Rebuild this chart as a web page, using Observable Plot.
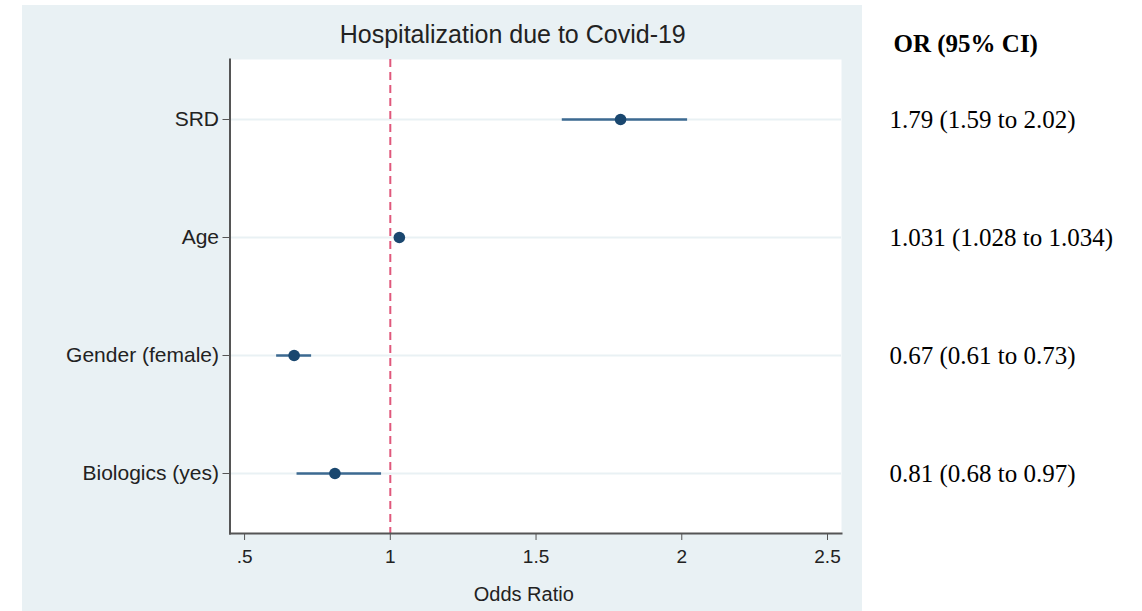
<!DOCTYPE html>
<html>
<head>
<meta charset="utf-8">
<script src="https://cdn.jsdelivr.net/npm/d3@7"></script>
<script src="https://cdn.jsdelivr.net/npm/@observablehq/plot@0.6"></script>
<style>
  html, body { margin: 0; padding: 0; background: #ffffff; }
  #wrap { position: relative; width: 1142px; height: 611px; overflow: hidden; }
  #panel { position: absolute; left: 22px; top: 5px; width: 840px; height: 606px; background: #e9f1f4; }
  #chart { position: absolute; left: 0; top: 0; }
</style>
</head>
<body>
<div id="wrap">
  <div id="panel"></div>
  <div id="chart"></div>
</div>
<script>
// Predictors, odds ratios and 95% confidence bounds
const predictors = ["SRD", "Age", "Gender (female)", "Biologics (yes)"];
const oddsRatio  = [1.79, 1.031, 0.67, 0.81];
const ciLower    = [1.59, 1.028, 0.61, 0.68];
const ciUpper    = [2.02, 1.034, 0.73, 0.97];
const xTicks     = [0.5, 1, 1.5, 2, 2.5];

const rows = predictors.map((name, i) => ({
  name, or: oddsRatio[i], lo: ciLower[i], hi: ciUpper[i]
}));

const sans = "'Liberation Sans', Arial, sans-serif";
const serif = "'Liberation Serif', 'Times New Roman', serif";

const chart = Plot.plot({
  width: 1142,
  height: 611,
  marginLeft: 229.5,
  marginRight: 301,
  marginTop: 59,
  marginBottom: 78,
  style: { background: "transparent", fontFamily: sans, color: "#222" },
  x: { domain: [0.45, 2.548], ticks: xTicks, tickFormat: d => String(d).replace(/^0\./, "."), label: null },
  y: { type: "point", domain: predictors, padding: 0.5, label: null },
  marks: [
    Plot.frame({ fill: "white", stroke: null }),
    // light row guides
    Plot.ruleY(predictors, { stroke: "#e9f1f4", strokeWidth: 2 }),
    // reference line of no effect
    Plot.ruleX([1], { stroke: "#e0587c", strokeWidth: 2, strokeDasharray: "8,5" }),
    // confidence intervals
    Plot.ruleY(rows, { y: "name", x1: "lo", x2: "hi", stroke: "#3d6a91", strokeWidth: 2.5 }),
    // point estimates
    Plot.dot(rows, { x: "or", y: "name", r: 5.8, fill: "#1a476f", stroke: null }),
    // axes
    Plot.axisY({ tickSize: 7, tickPadding: 4, fontSize: 21, stroke: "#555", label: null }),
    Plot.axisX({ ticks: xTicks, tickSize: 7, tickPadding: 9, fontSize: 19, stroke: "#555", label: null,
                 tickFormat: d => String(d).replace(/^0\./, ".") }),
    Plot.frame({ anchor: "left", stroke: "#555", strokeWidth: 2 }),
    Plot.frame({ anchor: "bottom", stroke: "#555", strokeWidth: 2 }),
    // title and axis title
    Plot.text(["Hospitalization due to Covid-19"], { frameAnchor: "top", dy: -25, dx: -23, lineAnchor: "middle",
      fontSize: 25, fill: "#222" }),
    Plot.text(["Odds Ratio"], { frameAnchor: "bottom", dy: 61, dx: -12, lineAnchor: "middle",
      fontSize: 20, fill: "#222" }),
    // side table of estimates
    Plot.text(["OR (95% CI)"], { frameAnchor: "top-right", dx: 52, dy: -16, textAnchor: "start",
      lineAnchor: "middle", fontSize: 25, fontWeight: "bold", fontFamily: serif, fill: "#000" }),
    Plot.text(rows, { y: "name", frameAnchor: "right", dx: 48, textAnchor: "start", lineAnchor: "middle",
      text: d => `${d.or} (${d.lo} to ${d.hi})`, fontSize: 25, fontFamily: serif, fill: "#000" })
  ]
});

document.getElementById("chart").appendChild(chart);
</script>
</body>
</html>
